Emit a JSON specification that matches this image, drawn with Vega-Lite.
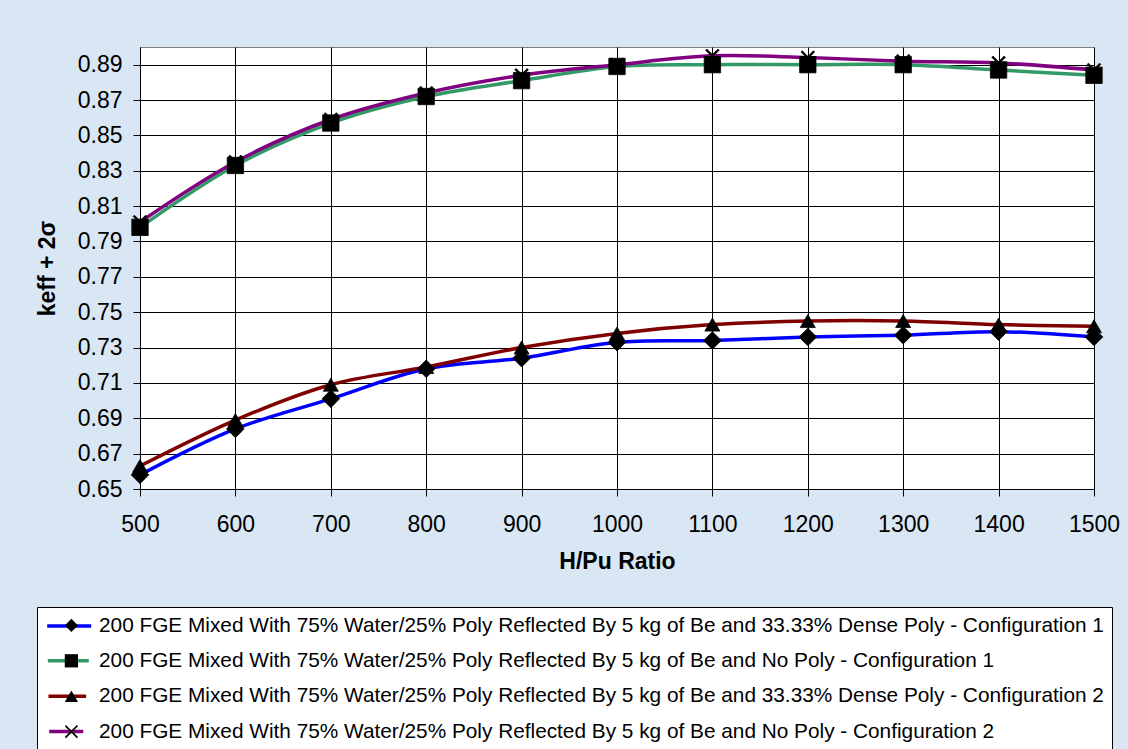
{
  "$schema": "https://vega.github.io/schema/vega-lite/v6.json",
  "width": 954,
  "height": 442,
  "autosize": {"type": "none"},
  "padding": {"left": 140, "top": 47, "right": 34, "bottom": 260},
  "background": "#d9e6f3",
  "config": {
    "view": {"fill": "white", "stroke": "#808080", "strokeWidth": 1},
    "font": "Liberation Sans",
    "axis": {
      "labelFont": "Liberation Sans",
      "titleFont": "Liberation Sans",
      "labelFontSize": 23,
      "labelColor": "black",
      "titleFontSize": 23,
      "titleFontWeight": "bold",
      "titleColor": "black",
      "gridColor": "black",
      "gridWidth": 1,
      "gridOpacity": 1,
      "domainColor": "black",
      "tickColor": "black",
      "tickSize": 7
    },
    "legend": {"labelFont": "Liberation Sans", "labelFontSize": 20.8, "labelColor": "black", "labelLimit": 1200}
  },
  "data": {
    "values": [
      {"hpu": 500, "series": "200 FGE Mixed With 75% Water/25% Poly Reflected By 5 kg of Be and 33.33% Dense Poly - Configuration 1", "k": 0.658},
      {"hpu": 600, "series": "200 FGE Mixed With 75% Water/25% Poly Reflected By 5 kg of Be and 33.33% Dense Poly - Configuration 1", "k": 0.684},
      {"hpu": 700, "series": "200 FGE Mixed With 75% Water/25% Poly Reflected By 5 kg of Be and 33.33% Dense Poly - Configuration 1", "k": 0.701},
      {"hpu": 800, "series": "200 FGE Mixed With 75% Water/25% Poly Reflected By 5 kg of Be and 33.33% Dense Poly - Configuration 1", "k": 0.718},
      {"hpu": 900, "series": "200 FGE Mixed With 75% Water/25% Poly Reflected By 5 kg of Be and 33.33% Dense Poly - Configuration 1", "k": 0.724},
      {"hpu": 1000, "series": "200 FGE Mixed With 75% Water/25% Poly Reflected By 5 kg of Be and 33.33% Dense Poly - Configuration 1", "k": 0.733},
      {"hpu": 1100, "series": "200 FGE Mixed With 75% Water/25% Poly Reflected By 5 kg of Be and 33.33% Dense Poly - Configuration 1", "k": 0.734},
      {"hpu": 1200, "series": "200 FGE Mixed With 75% Water/25% Poly Reflected By 5 kg of Be and 33.33% Dense Poly - Configuration 1", "k": 0.736},
      {"hpu": 1300, "series": "200 FGE Mixed With 75% Water/25% Poly Reflected By 5 kg of Be and 33.33% Dense Poly - Configuration 1", "k": 0.737},
      {"hpu": 1400, "series": "200 FGE Mixed With 75% Water/25% Poly Reflected By 5 kg of Be and 33.33% Dense Poly - Configuration 1", "k": 0.739},
      {"hpu": 1500, "series": "200 FGE Mixed With 75% Water/25% Poly Reflected By 5 kg of Be and 33.33% Dense Poly - Configuration 1", "k": 0.736},
      {"hpu": 500, "series": "200 FGE Mixed With 75% Water/25% Poly Reflected By 5 kg of Be and No Poly - Configuration 1", "k": 0.798},
      {"hpu": 600, "series": "200 FGE Mixed With 75% Water/25% Poly Reflected By 5 kg of Be and No Poly - Configuration 1", "k": 0.833},
      {"hpu": 700, "series": "200 FGE Mixed With 75% Water/25% Poly Reflected By 5 kg of Be and No Poly - Configuration 1", "k": 0.857},
      {"hpu": 800, "series": "200 FGE Mixed With 75% Water/25% Poly Reflected By 5 kg of Be and No Poly - Configuration 1", "k": 0.872},
      {"hpu": 900, "series": "200 FGE Mixed With 75% Water/25% Poly Reflected By 5 kg of Be and No Poly - Configuration 1", "k": 0.881},
      {"hpu": 1000, "series": "200 FGE Mixed With 75% Water/25% Poly Reflected By 5 kg of Be and No Poly - Configuration 1", "k": 0.889},
      {"hpu": 1100, "series": "200 FGE Mixed With 75% Water/25% Poly Reflected By 5 kg of Be and No Poly - Configuration 1", "k": 0.890},
      {"hpu": 1200, "series": "200 FGE Mixed With 75% Water/25% Poly Reflected By 5 kg of Be and No Poly - Configuration 1", "k": 0.890},
      {"hpu": 1300, "series": "200 FGE Mixed With 75% Water/25% Poly Reflected By 5 kg of Be and No Poly - Configuration 1", "k": 0.890},
      {"hpu": 1400, "series": "200 FGE Mixed With 75% Water/25% Poly Reflected By 5 kg of Be and No Poly - Configuration 1", "k": 0.887},
      {"hpu": 1500, "series": "200 FGE Mixed With 75% Water/25% Poly Reflected By 5 kg of Be and No Poly - Configuration 1", "k": 0.884},
      {"hpu": 500, "series": "200 FGE Mixed With 75% Water/25% Poly Reflected By 5 kg of Be and 33.33% Dense Poly - Configuration 2", "k": 0.663},
      {"hpu": 600, "series": "200 FGE Mixed With 75% Water/25% Poly Reflected By 5 kg of Be and 33.33% Dense Poly - Configuration 2", "k": 0.689},
      {"hpu": 700, "series": "200 FGE Mixed With 75% Water/25% Poly Reflected By 5 kg of Be and 33.33% Dense Poly - Configuration 2", "k": 0.709},
      {"hpu": 800, "series": "200 FGE Mixed With 75% Water/25% Poly Reflected By 5 kg of Be and 33.33% Dense Poly - Configuration 2", "k": 0.719},
      {"hpu": 900, "series": "200 FGE Mixed With 75% Water/25% Poly Reflected By 5 kg of Be and 33.33% Dense Poly - Configuration 2", "k": 0.730},
      {"hpu": 1000, "series": "200 FGE Mixed With 75% Water/25% Poly Reflected By 5 kg of Be and 33.33% Dense Poly - Configuration 2", "k": 0.738},
      {"hpu": 1100, "series": "200 FGE Mixed With 75% Water/25% Poly Reflected By 5 kg of Be and 33.33% Dense Poly - Configuration 2", "k": 0.743},
      {"hpu": 1200, "series": "200 FGE Mixed With 75% Water/25% Poly Reflected By 5 kg of Be and 33.33% Dense Poly - Configuration 2", "k": 0.745},
      {"hpu": 1300, "series": "200 FGE Mixed With 75% Water/25% Poly Reflected By 5 kg of Be and 33.33% Dense Poly - Configuration 2", "k": 0.745},
      {"hpu": 1400, "series": "200 FGE Mixed With 75% Water/25% Poly Reflected By 5 kg of Be and 33.33% Dense Poly - Configuration 2", "k": 0.743},
      {"hpu": 1500, "series": "200 FGE Mixed With 75% Water/25% Poly Reflected By 5 kg of Be and 33.33% Dense Poly - Configuration 2", "k": 0.742},
      {"hpu": 500, "series": "200 FGE Mixed With 75% Water/25% Poly Reflected By 5 kg of Be and No Poly - Configuration 2", "k": 0.801},
      {"hpu": 600, "series": "200 FGE Mixed With 75% Water/25% Poly Reflected By 5 kg of Be and No Poly - Configuration 2", "k": 0.835},
      {"hpu": 700, "series": "200 FGE Mixed With 75% Water/25% Poly Reflected By 5 kg of Be and No Poly - Configuration 2", "k": 0.859},
      {"hpu": 800, "series": "200 FGE Mixed With 75% Water/25% Poly Reflected By 5 kg of Be and No Poly - Configuration 2", "k": 0.874},
      {"hpu": 900, "series": "200 FGE Mixed With 75% Water/25% Poly Reflected By 5 kg of Be and No Poly - Configuration 2", "k": 0.884},
      {"hpu": 1000, "series": "200 FGE Mixed With 75% Water/25% Poly Reflected By 5 kg of Be and No Poly - Configuration 2", "k": 0.890},
      {"hpu": 1100, "series": "200 FGE Mixed With 75% Water/25% Poly Reflected By 5 kg of Be and No Poly - Configuration 2", "k": 0.895},
      {"hpu": 1200, "series": "200 FGE Mixed With 75% Water/25% Poly Reflected By 5 kg of Be and No Poly - Configuration 2", "k": 0.894},
      {"hpu": 1300, "series": "200 FGE Mixed With 75% Water/25% Poly Reflected By 5 kg of Be and No Poly - Configuration 2", "k": 0.892},
      {"hpu": 1400, "series": "200 FGE Mixed With 75% Water/25% Poly Reflected By 5 kg of Be and No Poly - Configuration 2", "k": 0.891},
      {"hpu": 1500, "series": "200 FGE Mixed With 75% Water/25% Poly Reflected By 5 kg of Be and No Poly - Configuration 2", "k": 0.887}
    ]
  },
  "encoding": {
    "x": {
      "field": "hpu",
      "type": "quantitative",
      "title": "H/Pu Ratio",
      "scale": {"domain": [500, 1500], "nice": false, "zero": false},
      "axis": {
        "values": [500, 600, 700, 800, 900, 1000, 1100, 1200, 1300, 1400, 1500],
        "format": "d",
        "labelPadding": 17,
        "titlePadding": 14,
        "labelFlush": false
      }
    },
    "y": {
      "field": "k",
      "type": "quantitative",
      "title": "keff + 2σ",
      "scale": {"domain": [0.65, 0.9], "nice": false, "zero": false},
      "axis": {
        "values": [0.65, 0.67, 0.69, 0.71, 0.73, 0.75, 0.77, 0.79, 0.81, 0.83, 0.85, 0.87, 0.89],
        "format": ".2f",
        "labelPadding": 11,
        "titlePadding": 18,
        "labelFlush": false
      }
    }
  },
  "layer": [
    {
      "mark": {"type": "line", "interpolate": "catmull-rom", "strokeWidth": 3.5},
      "encoding": {
        "color": {
          "field": "series",
          "type": "nominal",
          "scale": {
            "domain": [
              "200 FGE Mixed With 75% Water/25% Poly Reflected By 5 kg of Be and 33.33% Dense Poly - Configuration 1",
              "200 FGE Mixed With 75% Water/25% Poly Reflected By 5 kg of Be and No Poly - Configuration 1",
              "200 FGE Mixed With 75% Water/25% Poly Reflected By 5 kg of Be and 33.33% Dense Poly - Configuration 2",
              "200 FGE Mixed With 75% Water/25% Poly Reflected By 5 kg of Be and No Poly - Configuration 2"
            ],
            "range": ["#0000ff", "#339966", "#800000", "#800080"]
          },
          "legend": {
            "title": null,
            "orient": "none",
            "legendX": -103,
            "legendY": 560,
            "padding": 8,
            "fillColor": "white",
            "strokeColor": "black",
            "symbolType": "M-1,0L4,0",
            "symbolSize": 400,
            "symbolStrokeWidth": 3.5,
            "rowPadding": 13.4,
            "labelOffset": 32
          }
        }
      }
    },
    {
      "mark": {"type": "point", "filled": true, "fill": "black", "stroke": "black", "strokeWidth": 0.8, "opacity": 1},
      "encoding": {
        "shape": {
          "field": "series",
          "type": "nominal",
          "sort": [
            "200 FGE Mixed With 75% Water/25% Poly Reflected By 5 kg of Be and 33.33% Dense Poly - Configuration 1",
            "200 FGE Mixed With 75% Water/25% Poly Reflected By 5 kg of Be and No Poly - Configuration 1",
            "200 FGE Mixed With 75% Water/25% Poly Reflected By 5 kg of Be and 33.33% Dense Poly - Configuration 2",
            "200 FGE Mixed With 75% Water/25% Poly Reflected By 5 kg of Be and No Poly - Configuration 2"
          ],
          "scale": {"range": ["diamond", "square", "triangle-up", "M-1,-0.82L-0.82,-1L0,-0.18L0.82,-1L1,-0.82L0.18,0L1,0.82L0.82,1L0,0.18L-0.82,1L-1,0.82L-0.18,0Z"]},
          "legend": {
            "title": null,
            "orient": "none",
            "legendX": -87,
            "legendY": 560,
            "padding": 8,
            "symbolSize": 175,
            "symbolFillColor": "black",
            "symbolStrokeColor": "black",
            "symbolStrokeWidth": 0.8,
            "rowPadding": 13.4,
            "labelOffset": 5,
            "labelOpacity": 0,
            "labelExpr": "''"
          }
        },
        "size": {
          "field": "series",
          "type": "nominal",
          "scale": {
            "domain": [
              "200 FGE Mixed With 75% Water/25% Poly Reflected By 5 kg of Be and 33.33% Dense Poly - Configuration 1",
              "200 FGE Mixed With 75% Water/25% Poly Reflected By 5 kg of Be and No Poly - Configuration 1",
              "200 FGE Mixed With 75% Water/25% Poly Reflected By 5 kg of Be and 33.33% Dense Poly - Configuration 2",
              "200 FGE Mixed With 75% Water/25% Poly Reflected By 5 kg of Be and No Poly - Configuration 2"
            ],
            "range": [310, 185, 270, 220]
          },
          "legend": null
        }
      }
    }
  ]
}
